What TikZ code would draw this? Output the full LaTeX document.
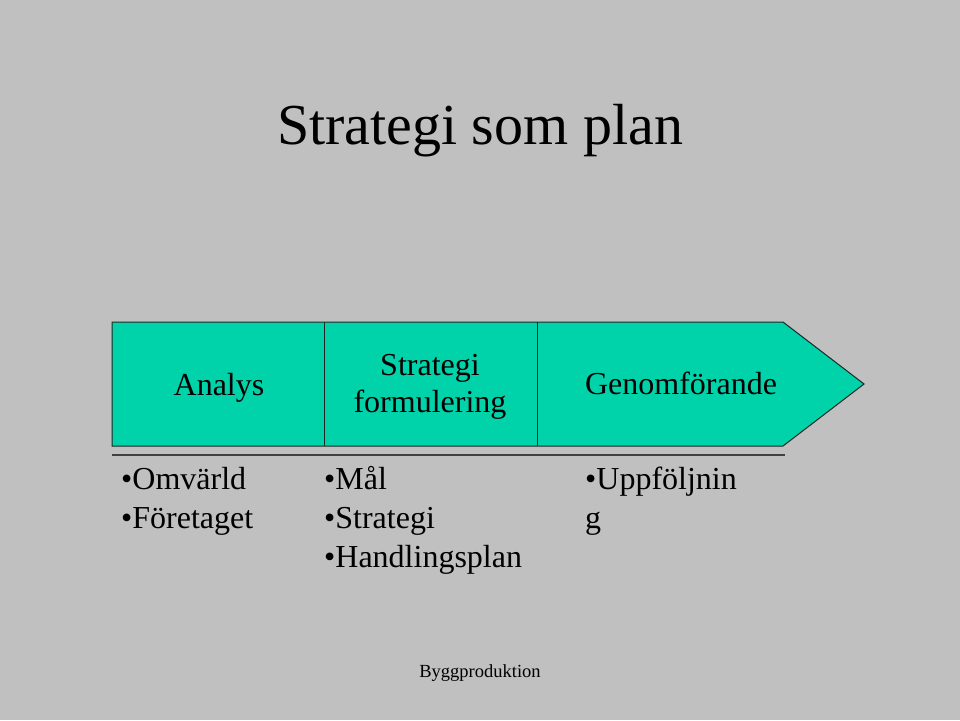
\documentclass[tikz,border=0pt]{standalone}
\usepackage{fontspec}
\setmainfont{Liberation Serif}
\definecolor{bgray}{RGB}{192,192,192}
\definecolor{tealfill}{RGB}{0,210,170}
\definecolor{edge}{RGB}{30,40,35}
\begin{document}
\begin{tikzpicture}[x=1pt,y=-1pt,
  txt/.style={inner sep=0pt,anchor=base,font=\fontsize{32}{37}\selectfont},
  bullet/.style={inner sep=0pt,anchor=base west,font=\fontsize{32}{39}\selectfont,align=left},
  seg/.style={draw=edge,line width=1pt}]
\fill[bgray] (0,0) rectangle (960,720);
\useasboundingbox (0,0) rectangle (960,720);
% title
\node[inner sep=0pt,anchor=base,font=\fontsize{58}{66}\selectfont] (title) at (480,144) {Strategi som plan};
% arrow shape
\coordinate (p1) at (112,322);
\coordinate (p2) at (783,322);
\coordinate (tip) at (864,384);
\coordinate (p3) at (783,446);
\coordinate (p4) at (112,446);
\filldraw[fill=tealfill,seg] (p1) -- (p2) -- (tip) -- (p3) -- (p4) -- cycle;
\coordinate (d1t) at (324,322); \coordinate (d1b) at (324,446);
\coordinate (d2t) at (537,322); \coordinate (d2b) at (537,446);
\draw[seg] (d1t) -- (d1b);
\draw[seg] (d2t) -- (d2b);
% underline
\coordinate (u1) at (112,455); \coordinate (u2) at (785,455);
\draw[draw=black!75,line width=1.6pt] (u1) -- (u2);
% box labels
\node[txt] (analys) at (219,395) {Analys};
\node[txt] (strat1) at (430,375) {Strategi};
\node[txt] (strat2) at (430,412) {formulering};
\node[txt] (genom) at (681,394) {Genomförande};
% bullet lists
\node[bullet] (b1) at (121,489) {•Omvärld};
\node[bullet] (b2) at (121,528) {•Företaget};
\node[bullet] (c1) at (324,489) {•Mål};
\node[bullet] (c2) at (324,528) {•Strategi};
\node[bullet] (c3) at (324,567) {•Handlingsplan};
\node[bullet] (e1) at (585,489) {•Uppföljnin};
\node[bullet] (e2) at (585,528) {g};
% footer
\node[inner sep=0pt,anchor=base,font=\fontsize{18.5}{22}\selectfont] (foot) at (480,677) {Byggproduktion};
\end{tikzpicture}
\end{document}
